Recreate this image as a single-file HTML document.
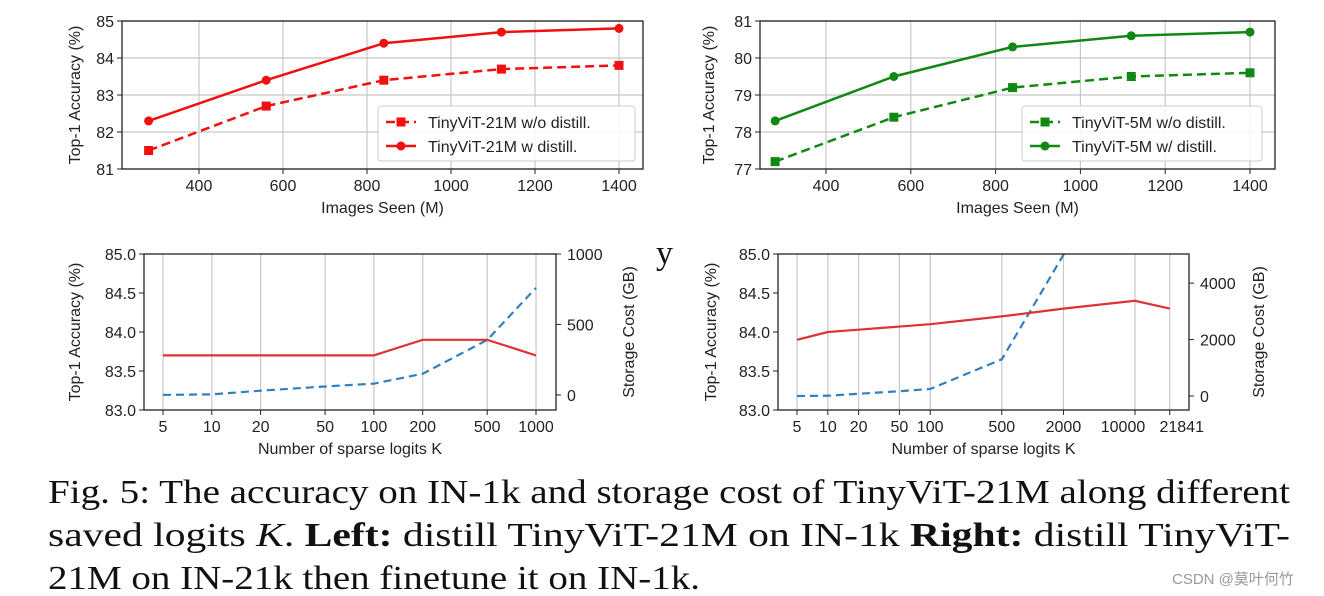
<!DOCTYPE html>
<html><head><meta charset="utf-8"><style>
body{margin:0;background:#fff;width:1324px;height:596px;overflow:hidden}
svg{display:block}
.t{font-family:"Liberation Sans","DejaVu Sans",sans-serif;font-size:16px;fill:#222}
.cap{font-family:"Liberation Serif",serif;font-size:34px;fill:#111}
</style></head><body>
<svg id="s" width="1324" height="596" xmlns="http://www.w3.org/2000/svg">
<text x="656" y="264" font-family="Liberation Serif,serif" font-size="34" fill="#111">y</text>
<text class="cap" y="503" x="48" textLength="1242" lengthAdjust="spacingAndGlyphs">Fig. 5: The accuracy on IN-1k and storage cost of TinyViT-21M along different</text>
<text class="cap" y="546" x="48" textLength="1242" lengthAdjust="spacingAndGlyphs">saved logits <tspan font-style="italic">K</tspan>. <tspan font-weight="bold">Left:</tspan>  distill TinyViT-21M on IN-1k <tspan font-weight="bold">Right:</tspan>  distill TinyViT-</text>
<text class="cap" y="589" x="48" textLength="652" lengthAdjust="spacingAndGlyphs">21M on IN-21k then finetune it on IN-1k.</text>
<text x="1172" y="584" font-family="Liberation Sans,'Noto Sans CJK SC',sans-serif" font-size="15" fill="#999">CSDN @莫叶何竹</text>
</svg>
<script>
const imgsX=[280,560,840,1120,1400];
const accW21=[82.3,83.4,84.4,84.7,84.8];
const accWo21=[81.5,82.7,83.4,83.7,83.8];
const accW5=[78.3,79.5,80.3,80.6,80.7];
const accWo5=[77.2,78.4,79.2,79.5,79.6];
const kLeft=[5,10,20,50,100,200,500,1000];
const accLeft=[83.7,83.7,83.7,83.7,83.7,83.9,83.9,83.7];
const storLeft=[0,4,30,60,80,150,390,760];
const kRight=[5,10,20,50,100,500,2000,10000,21841];
const accRight=[83.9,84.0,84.03,84.07,84.1,84.2,84.3,84.4,84.3];
const storRight=[0,10,80,170,250,1300,5000,22000,48000];
const xTicksTop=[400,600,800,1000,1200,1400];
const yTicks21=[81,82,83,84,85];
const yTicks5=[77,78,79,80,81];
const accTicks=["83.0","83.5","84.0","84.5","85.0"];
const storTicksL=[0,500,1000];
const storTicksR=[0,2000,4000];

const S=document.getElementById('s');const NS='http://www.w3.org/2000/svg';
function mk(tag,at,name,parent){const e=document.createElementNS(NS,tag);for(const k in at)e.setAttribute(k,at[k]);


(parent||S).appendChild(e);return e;}
function txt(x,y,s,name,extra){const e=mk('text',Object.assign({x:x,y:y,class:'t'},extra||{}),name);e.textContent=s;return e;}

let clipN=0;
function panel(o){
  const g=mk('g',{},o.name);
  const cid='c'+(clipN++);
  const cp=mk('clipPath',{id:cid},'clip',g);mk('rect',{x:o.x0,y:o.y0,width:o.x1-o.x0,height:o.y1-o.y0},'clip-rect',cp);
  const X=v=>o.xf(v), Y=v=>o.y1-(v-o.ymin)/(o.ymax-o.ymin)*(o.y1-o.y0);
  o.xt.forEach((v,i)=>{const x=X(v);mk('line',{x1:x,x2:x,y1:o.y0,y2:o.y1,stroke:'#c8c8c8','stroke-width':1.2},'x-gridline',g);
    mk('line',{x1:x,x2:x,y1:o.y1,y2:o.y1+5,stroke:'#222'},'x-tick',g);
    const off=o.xoff?o.xoff[i]:0;
    txt(x+off,o.y1+22,o.xl?o.xl[i]:String(v),'x-tick-label',{'text-anchor':'middle'});});
  o.yt.forEach((v,i)=>{const y=Y(v);if(o.hgrid)mk('line',{x1:o.x0,x2:o.x1,y1:y,y2:y,stroke:'#c8c8c8','stroke-width':1.2},'y-gridline',g);
    mk('line',{x1:o.x0-5,x2:o.x0,y1:y,y2:y,stroke:'#222'},'y-tick',g);
    txt(o.x0-8,y+6,o.yl?o.yl[i]:String(v),'y-tick-label',{'text-anchor':'end',fill:o.ycol||'#222'});});
  if(o.r){const R=v=>o.y1-(v-o.r.min)/(o.r.max-o.r.min)*(o.y1-o.y0);
    o.r.ticks.forEach(v=>{const y=R(v);mk('line',{x1:o.x1,x2:o.x1+5,y1:y,y2:y,stroke:'#222'},'right-y-tick',g);
      txt(o.x1+11,y+6,String(v),'right-y-tick-label',{fill:'#3a8ac6'});});
    o.r.series.forEach(s=>{mk('polyline',{points:s.x.map((v,i)=>X(v)+','+R(s.y[i])).join(' '),fill:'none',stroke:s.c,'stroke-width':2.2,'stroke-dasharray':s.dash||'','clip-path':'url(#'+cid+')'},s.name,g);});
    txt(0,0,o.r.title,'right-y-axis-title',{fill:'#3a8ac6','text-anchor':'middle',transform:`translate(${o.r.tx},${(o.y0+o.y1)/2}) rotate(-90)`});}
  o.series.forEach(s=>{mk('polyline',{points:s.x.map((v,i)=>X(v)+','+Y(s.y[i])).join(' '),fill:'none',stroke:s.c,'stroke-width':s.w||2.5,'stroke-dasharray':s.dash||''},s.name,g);
    if(s.m)s.x.forEach((v,i)=>{if(s.m=='o')mk('circle',{cx:X(v),cy:Y(s.y[i]),r:4.5,fill:s.c},s.name+'-marker',g);
      else mk('rect',{x:X(v)-4.5,y:Y(s.y[i])-4.5,width:9,height:9,fill:s.c},s.name+'-marker',g);});});
  mk('rect',{x:o.x0,y:o.y0,width:o.x1-o.x0,height:o.y1-o.y0,fill:'none',stroke:'#222','stroke-width':1.3},'plot-frame',g);
  txt((o.x0+o.x1)/2,o.y1+44,o.xtitle,'x-axis-title',{'text-anchor':'middle'});
  txt(0,0,o.ytitle,'y-axis-title',{'text-anchor':'middle',fill:o.ycol||'#222',transform:`translate(${o.ytx},${(o.y0+o.y1)/2}) rotate(-90)`});
  if(o.leg){const L=o.leg;mk('rect',{x:L.x,y:L.y,width:L.w,height:55,fill:'#fff','fill-opacity':0.85,stroke:'#ccc',rx:3},'legend-box',g);
    L.items.forEach((it,i)=>{const y=L.y+16+i*24;mk('line',{x1:L.x+8,x2:L.x+38,y1:y,y2:y,stroke:it.c,'stroke-width':2.5,'stroke-dasharray':it.dash||''},'legend-line',g);
      if(it.m=='o')mk('circle',{cx:L.x+23,cy:y,r:4.5,fill:it.c},'legend-marker',g);else mk('rect',{x:L.x+18.5,y:y-4.5,width:9,height:9,fill:it.c},'legend-marker',g);
      txt(L.x+50,y+6,it.t,'legend-entry');});}
}
const lin=(a,b,p,q)=>v=>p+(v-a)/(b-a)*(q-p);
const lg=(a,b,p,q)=>v=>p+(Math.log10(v)-Math.log10(a))/(Math.log10(b)-Math.log10(a))*(q-p);
const R='#f01010',G='#118811';
panel({name:'top-left-chart',x0:122,x1:643,y0:21,y1:169,xf:lin(400,1400,199,619),ymin:81,ymax:85,xt:xTicksTop,yt:yTicks21,hgrid:true,
 xtitle:'Images Seen (M)',ytitle:'Top-1 Accuracy (%)',ytx:80,
 series:[{name:'w-o-distill-21m',x:imgsX,y:accWo21,c:R,dash:'9,5',m:'s'},{name:'w-distill-21m',x:imgsX,y:accW21,c:R,m:'o'}],
 leg:{x:378,y:106,w:257,items:[{c:R,dash:'9,5',m:'s',t:'TinyViT-21M w/o distill.'},{c:R,m:'o',t:'TinyViT-21M w distill.'}]}});
panel({name:'top-right-chart',x0:760,x1:1275,y0:21,y1:169,xf:lin(400,1400,826,1250),ymin:77,ymax:81,xt:xTicksTop,yt:yTicks5,hgrid:true,
 xtitle:'Images Seen (M)',ytitle:'Top-1 Accuracy (%)',ytx:714,
 series:[{name:'w-o-distill-5m',x:imgsX,y:accWo5,c:G,dash:'9,5',m:'s'},{name:'w-distill-5m',x:imgsX,y:accW5,c:G,m:'o'}],
 leg:{x:1022,y:106,w:240,items:[{c:G,dash:'9,5',m:'s',t:'TinyViT-5M w/o distill.'},{c:G,m:'o',t:'TinyViT-5M w/ distill.'}]}});
panel({name:'bottom-left-chart',x0:144,x1:556,y0:254,y1:410,xf:lg(5,1000,163,536),ymin:83,ymax:85,xt:kLeft,yt:[83,83.5,84,84.5,85],yl:accTicks,ycol:'#e03a3a',
 xtitle:'Number of sparse logits K',ytitle:'Top-1 Accuracy (%)',ytx:80,
 series:[{name:'accuracy-line',x:kLeft,y:accLeft,c:'#dd3333',w:2.2}],
 r:{min:-107,max:1000,ticks:storTicksL,title:'Storage Cost (GB)',tx:634,series:[{name:'storage-line',x:kLeft,y:storLeft,c:'#2f80c0',dash:'8,5'}]}});
panel({name:'bottom-right-chart',x0:778,x1:1189,y0:254,y1:410,xf:lg(5,10000,797,1135),ymin:83,ymax:85,xt:[5,10,20,50,100,500,2000,10000,21841],xl:['5','10','20','50','100','500','2000','10000','21841'],xoff:[0,0,0,0,0,0,0,-12,12],yt:[83,83.5,84,84.5,85],yl:accTicks,ycol:'#e03a3a',
 xtitle:'Number of sparse logits K',ytitle:'Top-1 Accuracy (%)',ytx:716,
 series:[{name:'accuracy-line',x:kRight,y:accRight,c:'#dd3333',w:2.2}],
 r:{min:-495,max:5030,ticks:storTicksR,title:'Storage Cost (GB)',tx:1264,series:[{name:'storage-line',x:kRight,y:storRight,c:'#2f80c0',dash:'8,5'}]}});
</script>
</body></html>
